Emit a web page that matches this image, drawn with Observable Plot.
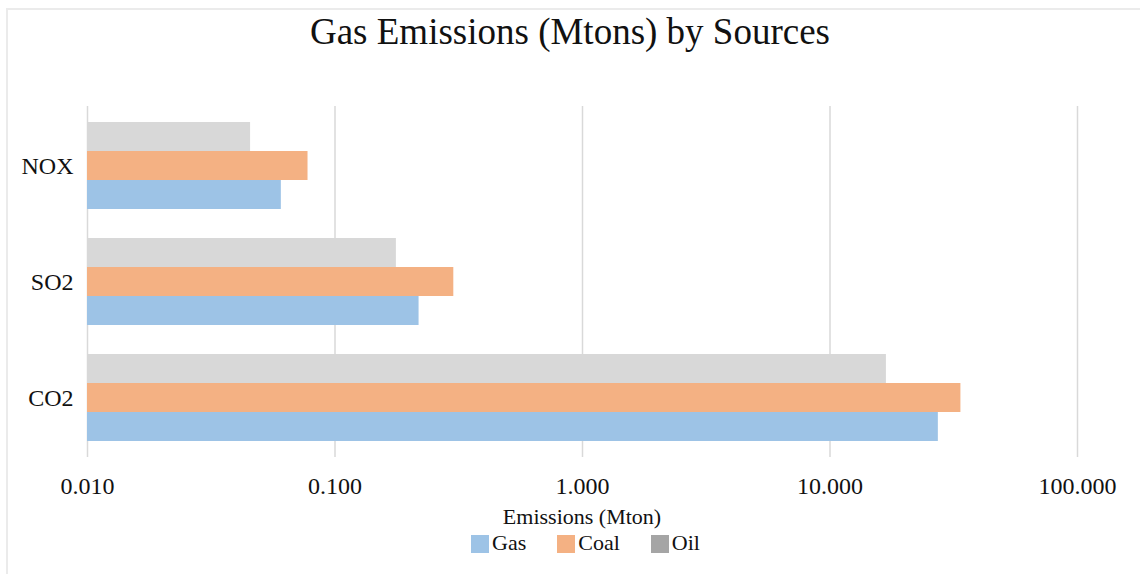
<!DOCTYPE html>
<html>
<head>
<meta charset="utf-8">
<script src="https://cdn.jsdelivr.net/npm/d3@7"></script>
<script src="https://cdn.jsdelivr.net/npm/@observablehq/plot@0.6"></script>
<style>
  html, body { margin: 0; padding: 0; background: #fff; }
  #page { position: relative; width: 1140px; height: 574px; overflow: hidden; font-family: "Liberation Serif", "Times New Roman", serif; }
  #frame { position: absolute; left: 6px; top: 8px; right: -4px; bottom: -4px; border-top: 2px solid #ebebeb; border-left: 2px solid #ebebeb; }
  #title { position: absolute; left: 0; width: 1140px; top: 10px; text-align: center; font-size: 37px; color: #111; line-height: 44px; }
  #chart { position: absolute; left: 0; top: 0; }
  #xlabel { position: absolute; left: 0; width: 1164px; top: 504px; text-align: center; font-size: 22px; color: #111; line-height: 26px; }
  #legend { position: absolute; left: 471px; top: 530px; display: flex; align-items: center; font-size: 22px; color: #111; line-height: 26px; }
  #legend .item { display: flex; align-items: center; margin-right: 31px; }
  #legend .sw { width: 18px; height: 18px; margin-right: 3px; margin-top: 2px; }
</style>
</head>
<body>
<div id="page">
  <div id="frame"></div>
  <div id="chart"></div>
  <div id="title"></div>
  <div id="xlabel"></div>
  <div id="legend"></div>
</div>
<script>
// ---- data ----
const titleText = "Gas Emissions (Mtons) by Sources";
const xLabelText = "Emissions (Mton)";
const categories = ["NOX", "SO2", "CO2"];          // top to bottom
const seriesOrder = ["Oil", "Coal", "Gas"];          // within group, top to bottom
const legendOrder = ["Gas", "Coal", "Oil"];
const gasValues  = [0.0607, 0.2186, 27.4];
const coalValues = [0.0778, 0.302, 33.8];
const oilValues  = [0.0456, 0.177, 16.9];
const xTicks = [0.01, 0.1, 1, 10, 100];
const xDomain = [0.01, 100];
const barColors = {Gas: "#9dc3e6", Coal: "#f4b183", Oil: "#d8d8d8"};
const legendColors = {Gas: "#9dc3e6", Coal: "#f4b183", Oil: "#a5a5a5"};

// ---- build table ----
const valuesBySeries = {Gas: gasValues, Coal: coalValues, Oil: oilValues};
const rows = [];
categories.forEach((c, i) => {
  seriesOrder.forEach(s => rows.push({category: c, series: s, key: c + "|" + s, value: valuesBySeries[s][i]}));
});
// y domain: groups separated by a spacer band
const yDomain = [];
categories.forEach((c, i) => {
  seriesOrder.forEach(s => yDomain.push(c + "|" + s));
  if (i < categories.length - 1) yDomain.push("gap" + i);
});
const yTicks = categories.map(c => c + "|" + seriesOrder[1]);

const W = 1140, H = 574;
const chart = Plot.plot({
  width: W,
  height: H,
  marginLeft: 87,
  marginRight: 63,
  marginTop: 106,
  marginBottom: 117,
  style: {fontFamily: "Liberation Serif, Times New Roman, serif", background: "transparent", color: "#111"},
  x: {type: "log", domain: xDomain},
  y: {type: "band", domain: yDomain, paddingInner: 0, paddingOuter: 0.55},
  marks: [
    Plot.ruleX(xTicks, {stroke: "#d9d9d9", strokeWidth: 1.5}),
    Plot.barX(rows, {
      y: "key",
      x1: () => xDomain[0],
      x2: "value",
      fill: d => barColors[d.series]
    }),
    Plot.axisX({ticks: xTicks, tickFormat: d3.format(".3f"), tickSize: 0, tickPadding: 19, fontSize: 24, label: null}),
    Plot.axisY({ticks: yTicks, tickFormat: k => k.split("|")[0], tickSize: 0, tickPadding: 14, fontSize: 24, label: null})
  ]
});
document.getElementById("chart").appendChild(chart);

document.getElementById("title").textContent = titleText;
document.getElementById("xlabel").textContent = xLabelText;
const legend = document.getElementById("legend");
legendOrder.forEach(s => {
  const item = document.createElement("div");
  item.className = "item";
  const sw = document.createElement("div");
  sw.className = "sw";
  sw.style.background = legendColors[s];
  const lab = document.createElement("span");
  lab.textContent = s;
  item.appendChild(sw);
  item.appendChild(lab);
  legend.appendChild(item);
});
</script>
</body>
</html>
